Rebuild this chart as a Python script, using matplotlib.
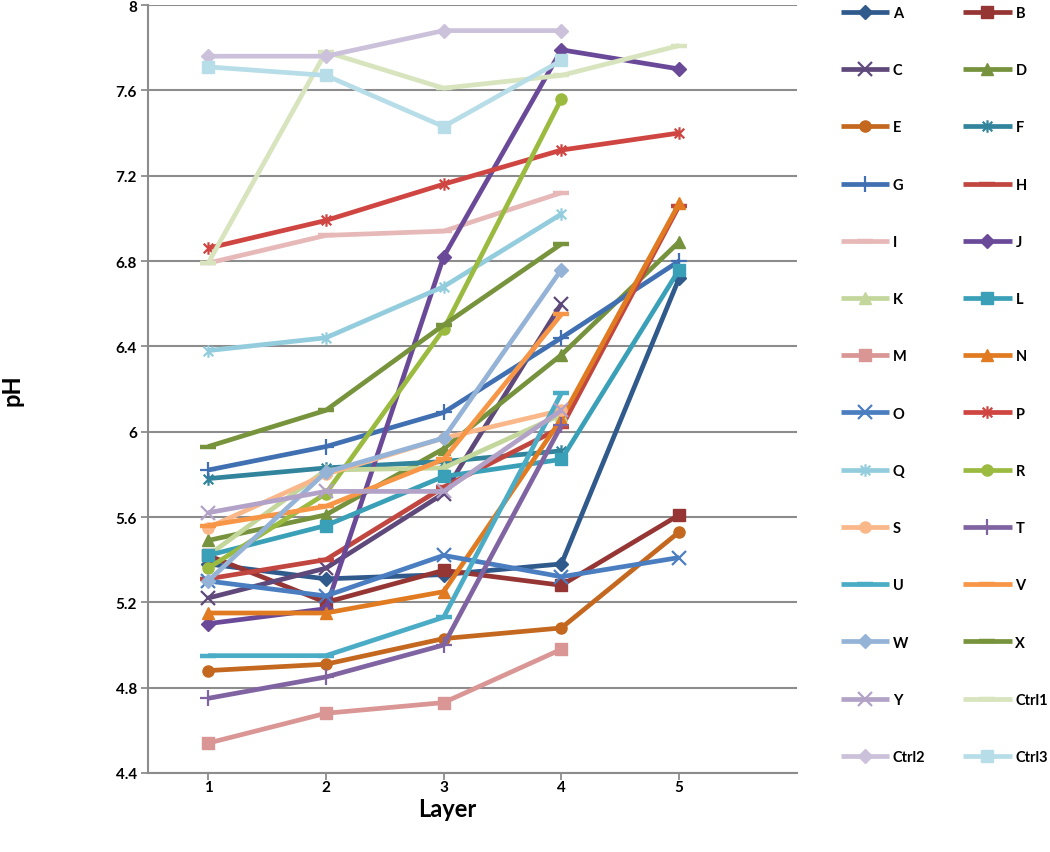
import numpy as np
import matplotlib
matplotlib.use("Agg")
import matplotlib.pyplot as plt
from matplotlib.path import Path

nan = np.nan
layers = [1, 2, 3, 4, 5]
names = ["A", "B", "C", "D", "E", "F", "G", "H", "I", "J", "K", "L", "M", "N",
         "O", "P", "Q", "R", "S", "T", "U", "V", "W", "X", "Y", "Ctrl1", "Ctrl2", "Ctrl3"]

A = [5.38, 5.31, 5.33, 5.38, 6.72]
B = [5.42, 5.20, 5.35, 5.28, 5.61]
C = [5.22, 5.36, 5.71, 6.60, nan]
D = [5.49, 5.61, 5.92, 6.36, 6.89]
E = [4.88, 4.91, 5.03, 5.08, 5.53]
F = [5.78, 5.83, 5.86, 5.91, nan]
G = [5.82, 5.93, 6.09, 6.44, 6.80]
H = [5.31, 5.40, 5.74, 6.02, 7.06]
I = [6.79, 6.92, 6.94, 7.12, nan]
J = [5.10, 5.17, 6.82, 7.79, 7.70]
K = [5.42, 5.82, 5.83, 6.08, nan]
L = [5.42, 5.56, 5.79, 5.87, 6.76]
M = [4.54, 4.68, 4.73, 4.98, nan]
N = [5.15, 5.15, 5.25, 6.06, 7.07]
O = [5.30, 5.23, 5.42, 5.32, 5.41]
P = [6.86, 6.99, 7.16, 7.32, 7.40]
Q = [6.38, 6.44, 6.68, 7.02, nan]
R = [5.36, 5.71, 6.48, 7.56, nan]
S = [5.55, 5.80, 5.97, 6.10, nan]
T = [4.75, 4.85, 5.00, 6.03, nan]
U = [4.95, 4.95, 5.13, 6.18, nan]
V = [5.56, 5.65, 5.87, 6.55, nan]
W = [5.30, 5.81, 5.97, 6.76, nan]
X = [5.93, 6.10, 6.50, 6.88, nan]
Y = [5.62, 5.72, 5.72, 6.10, nan]
Ctrl1 = [6.79, 7.78, 7.61, 7.67, 7.81]
Ctrl2 = [7.76, 7.76, 7.88, 7.88, nan]
Ctrl3 = [7.71, 7.67, 7.43, 7.74, nan]

series = [A, B, C, D, E, F, G, H, I, J, K, L, M, N, O, P, Q, R, S, T, U, V, W, X, Y,
          Ctrl1, Ctrl2, Ctrl3]

colors = ["#30598C", "#963634", "#5E497A", "#76923C", "#C3681E", "#31849B",
          "#4070B2", "#C0463F", "#E6B9B8", "#6A4A98", "#C3D69B", "#3AA0B8",
          "#D99694", "#E17B22", "#4A7EC0", "#CF4541", "#93CDDD", "#9BBB40",
          "#FAB88A", "#8064A2", "#4BACC6", "#F79646", "#95B3D7", "#77933C",
          "#B3A2C7", "#D7E4BD", "#CCC1DA", "#B7DEE8"]

star = Path([(-1, -1), (1, 1), (-1, 1), (1, -1), (0, -1.3), (0, 1.3)],
            [Path.MOVETO, Path.LINETO, Path.MOVETO, Path.LINETO, Path.MOVETO, Path.LINETO])

mk = {"D": ("D", 7), "s": ("s", 8.5), "x": ("x", 10), "^": ("^", 8.5), "o": ("o", 8),
      "*": (star, 9), "+": ("+", 12), "_": ("_", 11)}
markers = ["D", "s", "x", "^", "o", "*", "+", "_", "_", "D", "^", "s", "s", "^",
           "x", "*", "*", "o", "o", "+", "_", "_", "D", "_", "x", "_", "D", "s"]

yticks = [4.4, 4.8, 5.2, 5.6, 6.0, 6.4, 6.8, 7.2, 7.6, 8.0]
ytick_labels = ["4.4", "4.8", "5.2", "5.6", "6", "6.4", "6.8", "7.2", "7.6", "8"]

plt.rcParams["font.family"] = ["Lato", "DejaVu Sans"]
fig = plt.figure(figsize=(10.5, 8.53), dpi=100)
ax = fig.add_axes([148 / 1050, 1 - 774 / 853, (797 - 148) / 1050, (774 - 6) / 853])

handles = []
for name, vals, c, m in zip(names, series, colors, markers):
    mstyle, ms = mk[m]
    mew = 1.6 if m in ("x", "*", "+") else (3.2 if m == "_" else 1.0)
    h, = ax.plot(layers, vals, color=c, lw=3.4, marker=mstyle, ms=ms,
                 mfc=c, mec=c, mew=mew, label=name,
                 solid_joinstyle="round", solid_capstyle="butt")
    handles.append(h)

ax.set_xlim(0.49, 6.0)
ax.set_ylim(4.4, 8.0)
ax.set_yticks(yticks)
ax.set_yticklabels(ytick_labels)
ax.set_xticks(layers)
ax.set_xticklabels([str(v) for v in layers])
ax.yaxis.grid(True, color="#8C8C8C", lw=1.5)
ax.set_axisbelow(True)
for s in ("top", "right"):
    ax.spines[s].set_visible(False)
for s in ("left", "bottom"):
    ax.spines[s].set_color("#8C8C8C")
    ax.spines[s].set_linewidth(1.5)
ax.tick_params(axis="y", length=5, width=1.3, color="#8C8C8C", labelsize=11, pad=3)
ax.tick_params(axis="x", length=5, width=1.3, color="#8C8C8C", labelsize=11, pad=0)
for t in ax.get_xticklabels() + ax.get_yticklabels():
    t.set_fontweight("bold")
ax.set_ylabel("pH", fontsize=17, fontweight="bold", va="center")
ax.yaxis.set_label_coords((12 - 148) / 649, 0.5)
ax.set_xlabel("Layer", fontsize=17, fontweight="bold", va="center")
ax.xaxis.set_label_coords((447 - 148) / 649, (774 - 810) / 768)

order = list(range(0, 28, 2)) + list(range(1, 28, 2))
leg = fig.legend([handles[i] for i in order], [names[i] for i in order],
                 loc="upper left", bbox_to_anchor=(838 / 1050, 1 - 4 / 853),
                 ncol=2, frameon=False, handlelength=3.3,
                 handletextpad=0.27, labelspacing=2.965, columnspacing=2.6,
                 borderpad=0.2, borderaxespad=0, prop={"weight": "bold", "size": 10.5})

fig.savefig("out.png", dpi=100)
